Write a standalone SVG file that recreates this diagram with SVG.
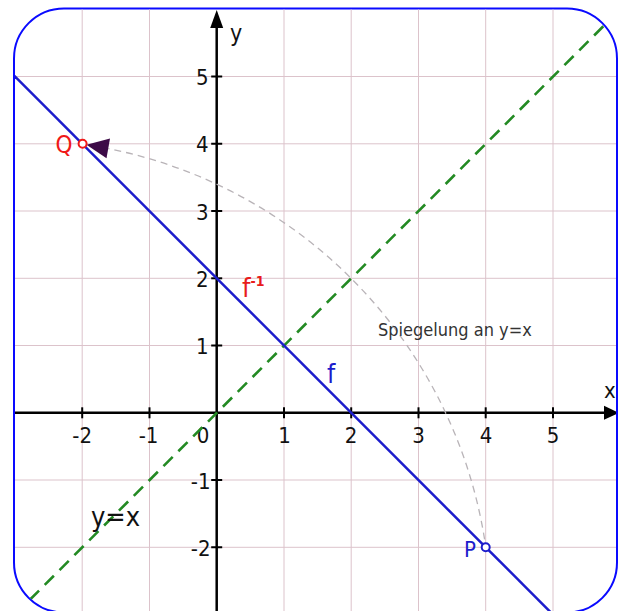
<svg xmlns="http://www.w3.org/2000/svg" width="620" height="611" viewBox="0 0 620 611">
  <style>
    .grid line { stroke: #dcc3cb; stroke-width: 1; }
    .axis { stroke: #000; stroke-width: 2.5; fill: none; }
    .tick { stroke: #000; stroke-width: 2; }
    .num { font-family: "DejaVu Sans Condensed", "DejaVu Sans", sans-serif; font-stretch: condensed; font-size: 22px; fill: #111; }
    .lbl { font-family: "DejaVu Sans Condensed", "DejaVu Sans", sans-serif; font-stretch: condensed; }
  </style>
  <defs>
    <clipPath id="frameClip">
      <rect x="15" y="9.5" width="601" height="602" rx="49" ry="49"/>
    </clipPath>
  </defs>
  <rect width="620" height="611" fill="#fff"/>
  <g id="frame">
    <rect x="14" y="8.5" width="603" height="604" rx="50" ry="50" fill="#fff" stroke="#0a0aff" stroke-width="2"/>
  </g>
  <g clip-path="url(#frameClip)">
    <g class="grid" id="grid">
      <line x1="82.2" y1="0" x2="82.2" y2="620"/>
      <line x1="149.5" y1="0" x2="149.5" y2="620"/>
      <line x1="284" y1="0" x2="284" y2="620"/>
      <line x1="351.2" y1="0" x2="351.2" y2="620"/>
      <line x1="418.5" y1="0" x2="418.5" y2="620"/>
      <line x1="485.7" y1="0" x2="485.7" y2="620"/>
      <line x1="553" y1="0" x2="553" y2="620"/>
      <line x1="0" y1="76.5" x2="620" y2="76.5"/>
      <line x1="0" y1="143.8" x2="620" y2="143.8"/>
      <line x1="0" y1="211" x2="620" y2="211"/>
      <line x1="0" y1="278.3" x2="620" y2="278.3"/>
      <line x1="0" y1="345.5" x2="620" y2="345.5"/>
      <line x1="0" y1="480" x2="620" y2="480"/>
      <line x1="0" y1="547.3" x2="620" y2="547.3"/>
    </g>
    <g id="axes">
      <line class="axis" x1="14" y1="412.8" x2="608" y2="412.8"/>
      <line class="axis" x1="216.7" y1="612" x2="216.7" y2="24"/>
      <polygon points="604,405.8 619,412.8 604,419.8" fill="#000"/>
      <polygon points="216.7,10 210.2,28 223.2,28" fill="#000"/>
      <g class="tick">
        <line x1="82.2" y1="407.3" x2="82.2" y2="418.3"/>
        <line x1="149.5" y1="407.3" x2="149.5" y2="418.3"/>
        <line x1="284" y1="407.3" x2="284" y2="418.3"/>
        <line x1="351.2" y1="407.3" x2="351.2" y2="418.3"/>
        <line x1="418.5" y1="407.3" x2="418.5" y2="418.3"/>
        <line x1="485.7" y1="407.3" x2="485.7" y2="418.3"/>
        <line x1="553" y1="407.3" x2="553" y2="418.3"/>
        <line x1="211.2" y1="76.5" x2="222.2" y2="76.5"/>
        <line x1="211.2" y1="143.8" x2="222.2" y2="143.8"/>
        <line x1="211.2" y1="211" x2="222.2" y2="211"/>
        <line x1="211.2" y1="278.3" x2="222.2" y2="278.3"/>
        <line x1="211.2" y1="345.5" x2="222.2" y2="345.5"/>
        <line x1="211.2" y1="480" x2="222.2" y2="480"/>
        <line x1="211.2" y1="547.3" x2="222.2" y2="547.3"/>
      </g>
      <g class="num" text-anchor="middle">
        <text x="82.2" y="442.5">-2</text>
        <text x="148.5" y="442.5">-1</text>
        <text x="203" y="442.5">0</text>
        <text x="284.5" y="442.5">1</text>
        <text x="351" y="442.5">2</text>
        <text x="418.5" y="442.5">3</text>
        <text x="486" y="442.5">4</text>
        <text x="553" y="442.5">5</text>
      </g>
      <g class="num" text-anchor="end">
        <text x="208.5" y="85">5</text>
        <text x="208.5" y="152.3">4</text>
        <text x="208.5" y="219.5">3</text>
        <text x="208.5" y="286.8">2</text>
        <text x="208.5" y="354">1</text>
        <text x="210.5" y="488.5">-1</text>
        <text x="210.5" y="555.8">-2</text>
      </g>
      <text class="lbl" x="230" y="41" font-size="23" fill="#111">y</text>
      <text class="lbl" x="604" y="398" font-size="22" fill="#111">x</text>
    </g>
    <g id="connectors">
      <path id="arc" d="M 484.6 539.4 A 475.2 475.2 0 0 0 108.2 148.6" fill="none" stroke="#b9b4b8" stroke-width="1.3" stroke-dasharray="7 5"/>
      <polygon points="86.5,144.8 110,138.6 106.5,158.3" fill="#3d0b47"/>
      <line id="line-yx" x1="15" y1="614.6" x2="620" y2="9.6" stroke="#238a23" stroke-width="2.6" stroke-dasharray="13 8"/>
      <line id="line-f" x1="10" y1="71.6" x2="560" y2="621.6" stroke="#1c1ccc" stroke-width="2.5"/>
    </g>
  </g>
  <g id="point-Q">
    <circle cx="82.6" cy="143.8" r="4" fill="#fff" stroke="#f01818" stroke-width="2"/>
    <text class="lbl" x="55.5" y="152.5" font-size="24" fill="#f01818">Q</text>
  </g>
  <g id="point-P">
    <circle cx="485.7" cy="547.3" r="4" fill="#fff" stroke="#1c1ccc" stroke-width="2"/>
    <text class="lbl" x="464" y="556.5" font-size="22" fill="#1c1ccc">P</text>
  </g>
  <g id="label-finv">
    <text class="lbl" x="242" y="297" font-size="27" fill="#e81c1c">f<tspan font-size="14" dy="-11" font-weight="bold">-1</tspan></text>
  </g>
  <g id="label-f">
    <text class="lbl" x="327" y="383" font-size="26" fill="#1c1ccc">f</text>
  </g>
  <g id="label-spiegelung">
    <text class="lbl" x="378" y="336" font-size="18" fill="#333">Spiegelung an y=x</text>
  </g>
  <g id="label-yx">
    <text class="lbl" x="91" y="526" font-size="27" fill="#111">y=x</text>
  </g>
</svg>
